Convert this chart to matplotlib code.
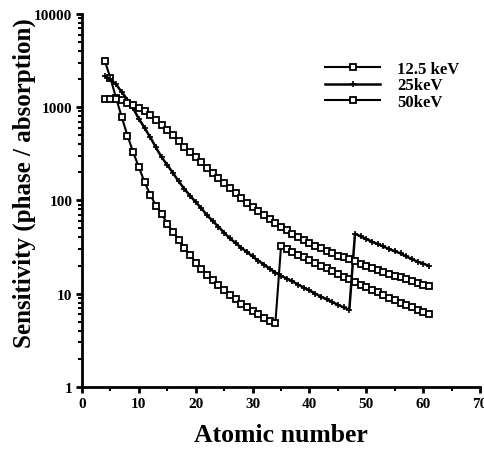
import matplotlib.pyplot as plt
import numpy as np

# atomic numbers 4..61
z = np.arange(4, 62)

s_125 = [3150, 2050, 1250, 780, 495, 329, 227, 157, 115, 88, 72, 56, 46, 38, 31, 26,
         21.5, 18.5, 16, 14, 12.3, 10.9, 9.7, 8.7, 7.8, 7.1, 6.5, 6.0, 5.5, 5.1, 4.8,
         32.6, 30, 28, 26, 24.5, 23, 21.5, 20, 18.7, 17.5, 16.3, 15.2, 14.2, 13.3,
         12.5, 11.7, 11, 10.3, 9.6, 9.0, 8.5, 8.0, 7.5, 7.1, 6.7, 6.3, 6.0]
s_25 = [2150, 2000, 1750, 1450, 1200, 970, 750, 600, 476, 370, 290, 240, 197, 160,
        133, 112, 96, 82, 69, 60, 52, 45, 39, 35, 31, 28, 25, 22.5, 20.5, 18.5, 16.8,
        15.5, 14.5, 13.5, 12.5, 11.6, 10.8, 10, 9.3, 8.7, 8.1, 7.6, 7.1, 6.7,
        44, 41, 38.5, 36, 34, 32, 30, 28.5, 27, 25, 23.5, 22, 21, 19.8]
s_50 = [1220, 1220, 1210, 1180, 1110, 1050, 975, 910, 815, 720, 645, 565, 500, 435,
        375, 330, 290, 255, 220, 195, 172, 152, 135, 120, 106, 94, 85, 77, 70, 63, 57,
        52, 48, 44, 40.5, 37.5, 35, 32.5, 30.5, 28.5, 27, 25.5, 24.5, 23.5, 22.5, 21,
        20, 19, 18, 17.2, 16.4, 15.6, 14.9, 14.2, 13.6, 13, 12.5, 12]

plt.rcParams['font.family'] = ['Liberation Serif', 'DejaVu Serif']
plt.rcParams['font.weight'] = 'bold'

fig = plt.figure(figsize=(4.85, 4.52), dpi=100)
ax = fig.add_axes([0.169, 0.142, 0.821, 0.825])

sq = dict(marker='s', markersize=5, markerfacecolor='white', markeredgecolor='black',
          markeredgewidth=1.3, color='black', linewidth=1.5)
ax.plot(z, s_125, label='12.5 keV', **sq)
ax.plot(z, s_25, label='25keV', color='black', linewidth=1.8, marker='+', markersize=4,
        markeredgewidth=1.2)
ax.plot(z, s_50, label='50keV', **sq)

ax.set_yscale('log')
ax.set_ylim(1, 10000)
ax.set_xlim(0, 70)
ax.set_xticks(range(0, 71, 10))
ax.set_xticks(range(5, 70, 10), minor=True)
ax.set_yticks([1, 10, 100, 1000, 10000])
ax.set_yticklabels(['1', '10', '100', '1000', '10000'])

for s in ['top', 'right']:
    ax.spines[s].set_visible(False)
for s in ['left', 'bottom']:
    ax.spines[s].set_linewidth(2)
ax.tick_params(which='major', length=4, width=2, labelsize=11, pad=3)
ax.tick_params(which='minor', length=3, width=1.5)

ax.set_xlabel('Atomic number', fontsize=18.5, fontweight='bold', labelpad=10)
ax.set_ylabel('Sensitivity (phase / absorption)', fontsize=18, fontweight='bold')
ax.yaxis.set_label_coords(-0.115, 0.55)

ax.legend(loc='upper right', bbox_to_anchor=(0.985, 0.915), frameon=False, fontsize=12,
          handlelength=3.3, handletextpad=1.0, labelspacing=0.05, numpoints=1)

fig.savefig('out.png', dpi=100)
